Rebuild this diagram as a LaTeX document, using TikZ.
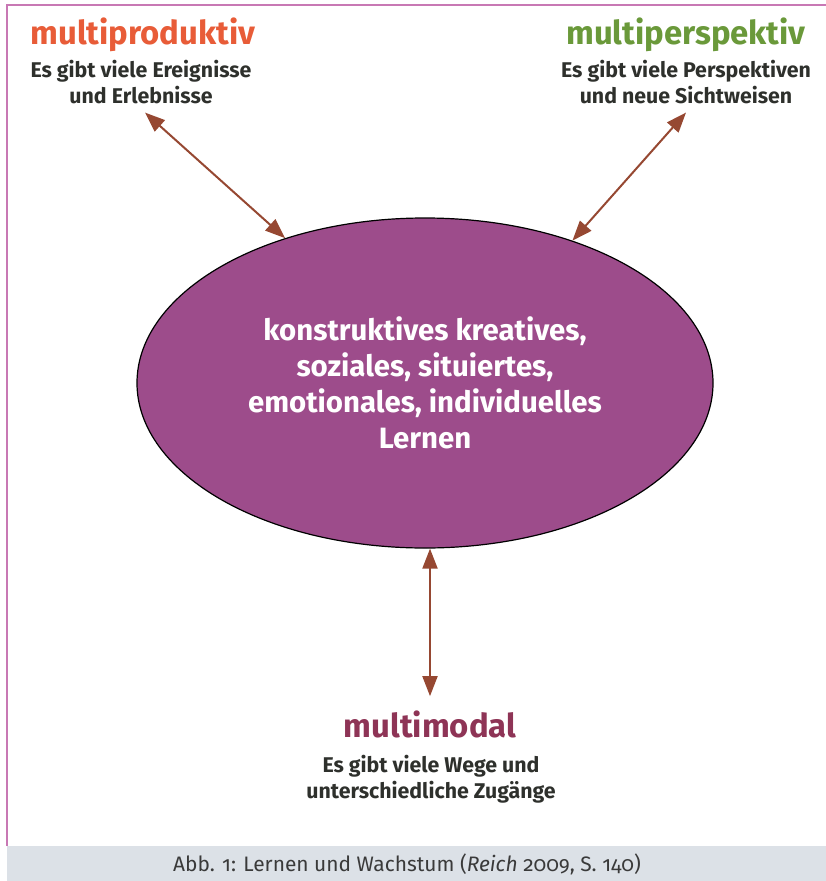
\documentclass[tikz,border=0pt]{standalone}
\usepackage{fontspec}
\setmainfont{Fira Sans}
\newfontfamily\captionfont[Numbers=OldStyle]{Fira Sans}
\usepackage{tikz}
\usetikzlibrary{arrows.meta,positioning,shapes.geometric}

\definecolor{prodcol}{RGB}{232,92,56}
\definecolor{perscol}{RGB}{106,153,58}
\definecolor{modcol}{RGB}{142,52,86}
\definecolor{subcol}{RGB}{46,48,44}
\definecolor{corefill}{RGB}{157,76,139}
\definecolor{linkcol}{RGB}{150,72,50}
\definecolor{framecol}{RGB}{200,120,180}
\definecolor{bandcol}{RGB}{220,225,231}
\definecolor{captext}{RGB}{58,58,58}

\begin{document}
\begin{tikzpicture}[
			x=1bp, y=-1bp,
			>={Triangle[length=20bp,width=15bp]},
			head/.style={font=\bfseries\fontsize{33}{38}\selectfont, inner sep=0pt, anchor=base},
			sub/.style={font=\bfseries\fontsize{21.4}{26}\selectfont, text=subcol, align=center, inner sep=0pt, anchor=base},
			core/.style={ellipse, draw=black, line width=1.2bp, fill=corefill, minimum width=576bp, minimum height=330bp, inner sep=0pt, text=white, align=center, font=\bfseries\fontsize{29.5}{36}\selectfont},
			link/.style={<->, draw=linkcol, fill=linkcol, line width=2bp}
			]
			\useasboundingbox (0,0) rectangle (826,881);
			
			% frame and caption band
			\fill[bandcol] (7,846) rectangle (826,881);
			\draw[framecol, line width=1.5bp] (7,846) -- (7,5) -- (826,5);
			\node[font=\captionfont\fontsize{21}{24}\selectfont, text=captext, inner sep=0pt, anchor=base] (cap) at (407,871) {Abb. 1: Lernen und Wachstum (\textit{Reich} 2009, S. 140)};
			
			\node[core] (core) at (425,383) {konstruktives kreatives,\\soziales, situiertes,\\emotionales, individuelles\\Lernen};
			
			\node[head, text=prodcol] (prod) at (143,44) {multiproduktiv};
			\node[sub] (prodsub) at (141,103) {Es gibt viele Ereignisse\\und Erlebnisse};
			\node[head, text=perscol] (pers) at (686,44) {multiperspektiv};
			\node[sub] (perssub) at (686,103) {Es gibt viele Perspektiven\\und neue Sichtweisen};
			\node[head, text=modcol] (mod) at (430,737) {multimodal};
			\node[sub] (modsub) at (431,798) {Es gibt viele Wege und\\unterschiedliche Zugänge};
			
			\draw[link] ([xshift=4bp,yshift=-9bp]prodsub.south) -- (core.134);
			\draw[link] ([yshift=-9bp]perssub.south) -- (core.44);
			\draw[link] (core.south -| mod.north) -- ([yshift=14bp]mod.north);
		\end{tikzpicture}
\end{document}
